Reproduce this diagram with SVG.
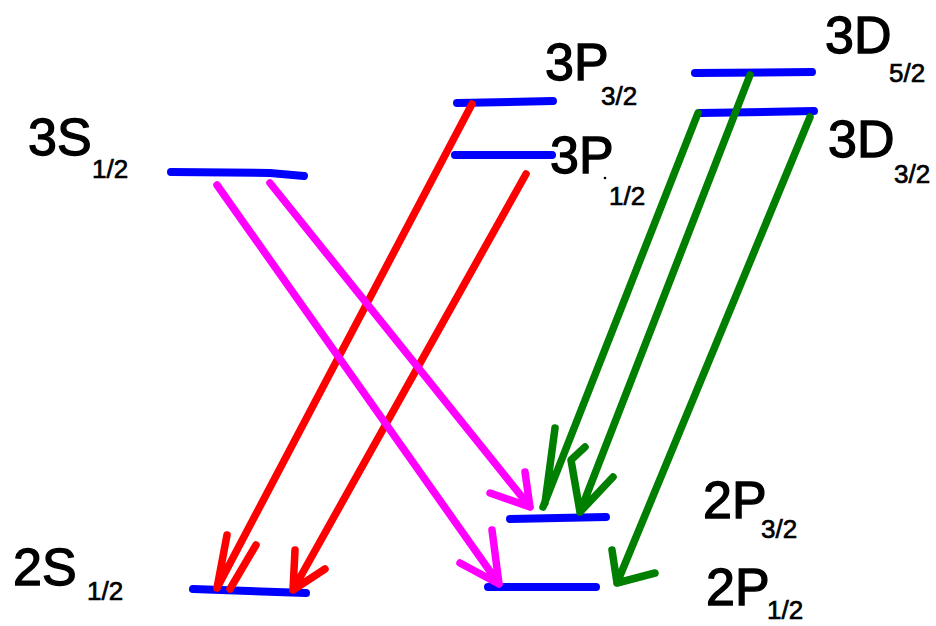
<svg xmlns="http://www.w3.org/2000/svg" width="936" height="626" viewBox="0 0 936 626">
<style>
.lvl{stroke:#0000ff;stroke-width:8;stroke-linecap:round;fill:none}
.t{font-family:"Liberation Sans",Arial,sans-serif;fill:#000;stroke:#000}
.big{font-size:52px;stroke-width:1.3}
.sub{font-size:26px;stroke-width:0.7}
.r{stroke:#ff0000}
.m{stroke:#ff00ff}
.g{stroke:#007f00}
.ar{stroke-width:7.5;stroke-linecap:round;stroke-linejoin:round;fill:none}
</style>
<rect width="936" height="626" fill="#fff"/>
<g id="level-3S12">
<path class="lvl" d="M171,172 L270,173 L304,176"/>
<text class="t big" x="28" y="155">3S</text>
<text class="t sub" x="92" y="178">1/2</text>
</g>
<g id="level-3P32">
<line class="lvl" x1="457" y1="103" x2="553" y2="101"/>
<text class="t big" x="545" y="80">3P</text>
<text class="t sub" x="601" y="105">3/2</text>
</g>
<g id="level-3P12">
<line class="lvl" x1="455" y1="155" x2="552" y2="155"/>
<text class="t big" x="550" y="173">3P</text>
<circle cx="605" cy="178" r="1.3" fill="#000"/>
<text class="t sub" x="609" y="205">1/2</text>
</g>
<g id="level-3D52">
<line class="lvl" x1="695" y1="73" x2="812" y2="72"/>
<text class="t big" x="825" y="53">3D</text>
<text class="t sub" x="889" y="82">5/2</text>
</g>
<g id="level-3D32">
<line class="lvl" x1="700" y1="113" x2="814" y2="111"/>
<text class="t big" x="828" y="157">3D</text>
<text class="t sub" x="894" y="183">3/2</text>
</g>
<g id="level-2P32">
<line class="lvl" x1="510" y1="519" x2="606" y2="517"/>
<text class="t big" x="703" y="518">2P</text>
<text class="t sub" x="761" y="538">3/2</text>
</g>
<g id="level-2P12">
<line class="lvl" x1="488" y1="587" x2="596" y2="587"/>
<text class="t big" x="706" y="605">2P</text>
<text class="t sub" x="767" y="619">1/2</text>
</g>
<g id="level-2S12">
<line class="lvl" x1="193" y1="589" x2="306" y2="593"/>
<text class="t big" x="13" y="585">2S</text>
<text class="t sub" x="87" y="600">1/2</text>
</g>
<g id="connectors">
<path class="ar r" d="M472,104 L217,588 M227,535 L217,588 M256,545 L230,589"/>
<path class="ar r" d="M526,174 L293,590 M295,550 L293,590 L325,569"/>
<path class="ar m" d="M270,183 L530,507 M525,472 L530,507 L490,493"/>
<path class="ar m" d="M217,185 L499,584 M492,530 L499,584 L460,563"/>
<path class="ar g" d="M698,113 L543,507 M555,428 L545,503"/>
<path class="ar g" d="M750,75 L580,512 M585,447 L571,460 L580,512 L613,477"/>
<path class="ar g" d="M810,117 L617,583 M612,550 L617,583 L655,573"/>
</g>
</svg>
